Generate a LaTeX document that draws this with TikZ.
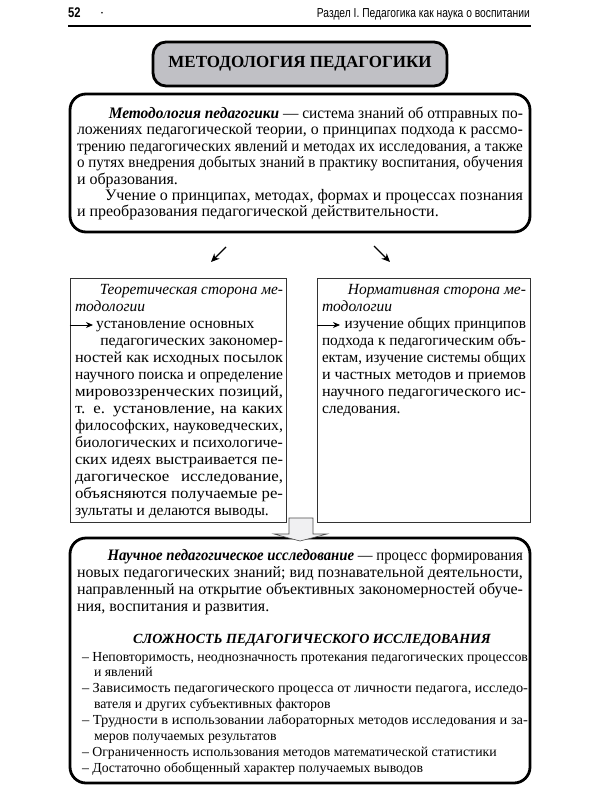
\documentclass[tikz,border=0pt]{standalone}
\usepackage{graphicx}
\usepackage{fontspec}
\setmainfont{Liberation Serif}
\newfontfamily\headsans{Liberation Sans}
\usetikzlibrary{arrows.meta}
\definecolor{titlegray}{RGB}{192,192,197}
\definecolor{arrowfill}{RGB}{240,240,242}
\newsavebox\lnbox
\newlength\lninner
\newcommand\JL[1]{\sbox\lnbox{#1}%
  \pgfmathsetmacro\lnratio{min(\the\hsize/\the\wd\lnbox,1.09)}%
  \pgfmathsetlength\lninner{\the\hsize/\lnratio}%
  \hbox to\hsize{\scalebox{\lnratio}[1]{\hbox to\lninner{#1}}\hss}}
\newcommand\NL[1]{\hbox{#1}}
\begin{document}
\begin{tikzpicture}[x=1pt,y=-1pt,
  bigbox/.style={draw, line width=2.8pt, rounded corners=16pt, inner sep=0pt},
  sidebox/.style={draw=black!80, line width=0.8pt, inner sep=0pt},
  titlebox/.style={draw, fill=titlegray, line width=2.8pt, rounded corners=13pt, inner sep=0pt, minimum width=294pt, minimum height=44pt},
  txt/.style={anchor=base west, inner sep=0pt, outer sep=0pt, font=\fontsize{16}{16.4}\selectfont},
  smalltxt/.style={anchor=base west, inner sep=0pt, outer sep=0pt, font=\fontsize{13.8}{15.9}\selectfont},
  diag/.style={line width=1.2pt, -{Stealth[length=8.5pt,width=7.5pt]}},
  inarrow/.style={line width=0.9pt, -{Stealth[length=7pt,width=6pt]}},
  blockarrow/.style={draw=black!70, fill=arrowfill, line width=0.6pt, line join=miter}
]
\fill[white] (0,0) rectangle (600,800);
\useasboundingbox (0,0) rectangle (600,800);

% header
\node[anchor=base west, inner sep=0pt] (pgnum) at (68,18) {\headsans\bfseries\fontsize{14}{16}\selectfont\scalebox{0.8}[1]{52}};
\node[inner sep=0pt] (dot) at (102,14) {\fontsize{7}{7}\selectfont\textbullet};
\node[anchor=base east, inner sep=0pt] (runhead) at (530,18) {\headsans\fontsize{13}{15}\selectfont\scalebox{0.79}[1]{Раздел I. Педагогика как наука о воспитании}};
\coordinate (r1) at (68,26);
\coordinate (r2) at (531,26);
\draw[line width=1.2pt] (r1) -- (r2);

% title
\node[titlebox] (title) at (300,64) {\fontsize{17}{20}\selectfont\bfseries МЕТОДОЛОГИЯ ПЕДАГОГИКИ};

% definition box
\node[bigbox, minimum width=460pt, minimum height=138pt] (defbox) at (300,163) {};
\node[txt] (deftext) at (77,118.5) {\vtop{\hsize=446pt
\JL{\hspace*{33pt}\textbf{\textit{Методология педагогики}} — система знаний об отправных по-}
\JL{ложениях педагогической теории, о принципах подхода к рассмо-}
\JL{трению педагогических явлений и методах их исследования, а также}
\JL{о путях внедрения добытых знаний в практику воспитания, обучения}
\NL{и образования.}
\JL{\hspace*{28pt}Учение о принципах, методах, формах и процессах познания}
\NL{и преобразования педагогической действительности.}}};

% diagonal arrows
\coordinate (la1) at (226,247);
\coordinate (la2) at (211,262);
\coordinate (ra1) at (374,246);
\coordinate (ra2) at (390,262);
\draw[diag] (la1) -- (la2);
\draw[diag] (ra1) -- (ra2);

% side boxes
\node[sidebox, minimum width=216pt, minimum height=244pt] (lbox) at (178,400) {};
\node[sidebox, minimum width=213pt, minimum height=244pt] (rbox) at (423.5,400) {};

\node[txt, font=\fontsize{15.5}{17}\selectfont] (ltext) at (75,294) {\vtop{\hsize=208pt
\JL{\hspace*{25pt}\textit{Теоретическая сторона ме-}}
\NL{\textit{тодологии}}
\NL{\hspace*{21pt}установление основных}
\JL{\hspace*{25pt}педагогических закономер-}
\JL{ностей как исходных посылок}
\JL{научного поиска и определение}
\JL{мировоззренческих позиций,}
\JL{т. е. установление, на каких}
\JL{философских, науковедческих,}
\JL{биологических и психологиче-}
\JL{ских идеях выстраивается пе-}
\JL{дагогическое исследование,}
\JL{объясняются получаемые ре-}
\NL{зультаты и делаются выводы.}}};

\node[txt, font=\fontsize{15.5}{17}\selectfont] (rtext) at (322,294) {\vtop{\hsize=204pt
\JL{\hspace*{26pt}\textit{Нормативная сторона ме-}}
\NL{\textit{тодологии}}
\JL{\hspace*{23pt}изучение общих принципов}
\JL{подхода к педагогическим объ-}
\JL{ектам, изучение системы общих}
\JL{и частных методов и приемов}
\JL{научного педагогического ис-}
\NL{следования.}}};

\coordinate (lt) at (93,325);
\coordinate (rt) at (340,325);
\draw[inarrow] (lbox.west |- lt) -- (lt);
\draw[inarrow] (rbox.west |- rt) -- (rt);

% bottom box
\node[bigbox, minimum width=460pt, minimum height=245pt] (botbox) at (300,660.5) {};
\node[txt, font=\fontsize{16}{17.3}\selectfont] (bottext) at (77,560) {\vtop{\hsize=446pt
\JL{\hspace*{33pt}\textbf{\textit{Научное педагогическое исследование}} — процесс формирования}
\JL{новых педагогических знаний; вид познавательной деятельности,}
\JL{направленный на открытие объективных закономерностей обуче-}
\NL{ния, воспитания и развития.}}};

\node[anchor=base, inner sep=0pt] (heading) at (312,643) {\fontsize{14}{16}\selectfont\bfseries\itshape СЛОЖНОСТЬ ПЕДАГОГИЧЕСКОГО ИССЛЕДОВАНИЯ};

\node[smalltxt] (list) at (82,661) {\vtop{\hsize=446pt
\JL{– Неповторимость, неоднозначность протекания педагогических процессов}
\NL{\hspace*{12pt}и явлений}
\JL{– Зависимость педагогического процесса от личности педагога, исследо-}
\NL{\hspace*{12pt}вателя и других субъективных факторов}
\JL{– Трудности в использовании лабораторных методов исследования и за-}
\NL{\hspace*{12pt}меров получаемых результатов}
\NL{– Ограниченность использования методов математической статистики}
\NL{– Достаточно обобщенный характер получаемых выводов}}};

% block arrow between side boxes and bottom box
\draw[blockarrow] (289,518) -- (313,518) -- (313,534) -- (327,534) -- (300,541) -- (274,534) -- (289,534) -- cycle;
\end{tikzpicture}
\end{document}
